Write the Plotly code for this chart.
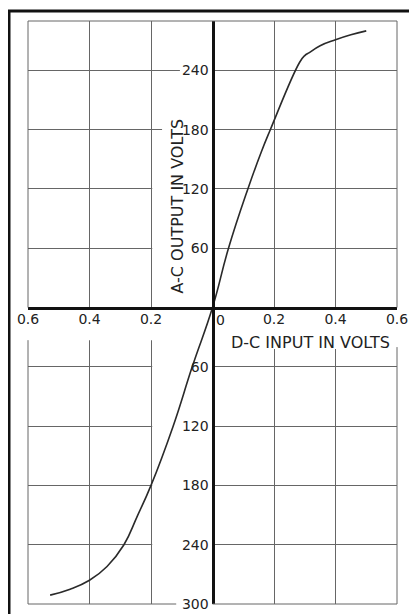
import plotly.graph_objects as go

# ---- data ----
upper_x = [0, 0.052, 0.115, 0.158, 0.188, 0.283, 0.300, 0.315, 0.35, 0.40, 0.45, 0.50]
upper_y = [0, 60, 120, 157, 180, 248, 255, 258, 265, 271, 276, 280]
lower_x = [0, -0.066, -0.128, -0.2, -0.2445, -0.288, -0.343, -0.40, -0.463, -0.528]
lower_y = [0, -60, -120, -180, -211, -240, -262, -276, -285, -291]

x_ticks = [-0.6, -0.4, -0.2, 0, 0.2, 0.4, 0.6]
x_labels = ["0.6", "0.4", "0.2", "", "0.2", "0.4", "0.6"]
origin_label = "0"
y_ticks = [-300, -240, -180, -120, -60, 0, 60, 120, 180, 240]
y_labels = ["300", "240", "180", "120", "60", "", "60", "120", "180", "240"]

X_RANGE = [-0.6, 0.6]
Y_RANGE = [-300, 290]

FONT = "DejaVu Sans"
TXT = "#222"
GRID = "#666"

# The page body adds an 8px margin; figure is sized/offset to compensate.
OFF = 8
W, H = 417 - OFF, 614 - OFF
L, R, T, B = 28 - OFF, 20, 21 - OFF, 10
pw, ph = W - L - R, H - T - B


def xp(v):
    return (v - X_RANGE[0]) / (X_RANGE[1] - X_RANGE[0])


def yp(v):
    return (v - Y_RANGE[0]) / (Y_RANGE[1] - Y_RANGE[0])


def px2x(p):  # window pixel -> paper x
    return (p - OFF - L) / pw


def py2y(p):  # window pixel -> paper y
    return (H - B - (p - OFF)) / ph


fig = go.Figure()
fig.add_trace(go.Scatter(x=lower_x[::-1] + upper_x[1:], y=lower_y[::-1] + upper_y[1:],
                         mode="lines", line=dict(color="#2a2a2a", width=1.6, shape="spline", smoothing=1.3),
                         hoverinfo="skip", showlegend=False))

shapes = []


def mask(x0, x1, y0, y1):
    shapes.append(dict(type="rect", xref="x", yref="y", x0=x0, x1=x1, y0=y0, y1=y1,
                       fillcolor="white", line=dict(width=0), layer="between"))


mask(-0.62, 0.0, -33, 0)        # strip under x axis (left)
mask(0.0, 0.62, -42, 0)         # strip under x axis (right, title)
mask(-0.196, 0.0, -310, 0)      # lower-left column next to labels
mask(-0.196, 0.0, 40, 130)      # y title area
mask(-0.164, 0.0, 130, 194)     # y title + 180 label
mask(-0.106, 0.0, 233, 247)     # 240 label


def pline(x0, y0, x1, y1, color=GRID, width=1):
    shapes.append(dict(type="line", xref="paper", yref="paper", x0=x0, y0=y0, x1=x1, y1=y1,
                       line=dict(color=color, width=width), layer="above"))


# inner frame (broken where the reference breaks it)
pline(0, 1, 1, 1)
pline(0, 0, 0, yp(-33))
pline(0, yp(0), 0, 1)
pline(1, 0, 1, yp(-40))
pline(1, yp(0), 1, 1)
pline(0, 0, xp(-0.118), 0)
pline(xp(0), 0, 1, 0)

# outer page border
pline(px2x(9.2), py2y(640), px2x(9.2), py2y(11), color="#111", width=2.6)
pline(px2x(8), py2y(11), px2x(430), py2y(11), color="#111", width=3)
pline(px2x(415), py2y(640), px2x(415), py2y(11), color="#999", width=1.2)

fig.update_layout(
    width=W, height=H,
    margin=dict(l=L, r=R, t=T, b=B, pad=0),
    paper_bgcolor="white", plot_bgcolor="white",
    showlegend=False,
    shapes=shapes,
    font=dict(family=FONT, color=TXT, size=14),
    xaxis=dict(range=X_RANGE, tickvals=x_ticks, ticktext=x_labels, showgrid=True,
               gridcolor=GRID, gridwidth=1, zeroline=False, showline=True, linewidth=3,
               linecolor="#111", anchor="free", position=yp(0), ticks="",
               tickfont=dict(size=14, color=TXT, family=FONT), automargin=False,
               ticklabelstandoff=-2, fixedrange=True),
    yaxis=dict(range=Y_RANGE, tickvals=y_ticks, ticktext=y_labels, showgrid=True,
               gridcolor=GRID, gridwidth=1, zeroline=False, showline=True, linewidth=3,
               linecolor="#111", anchor="free", position=xp(0), ticks="",
               tickfont=dict(size=14, color=TXT, family=FONT), automargin=False,
               fixedrange=True),
    annotations=[
        dict(text=origin_label, xref="x", yref="y", x=0.0, y=-13, xshift=8,
             showarrow=False, font=dict(size=14, color=TXT, family=FONT),
             xanchor="center", yanchor="middle"),
        dict(text="D-C INPUT IN VOLTS", xref="x", yref="y", x=0.32, y=-35.5,
             showarrow=False, font=dict(size=16, color=TXT, family=FONT),
             xanchor="center", yanchor="middle"),
        dict(text="A-C OUTPUT IN VOLTS", xref="x", yref="y", x=-0.114, y=102.7,
             showarrow=False, textangle=-90, font=dict(size=16, color=TXT, family=FONT),
             xanchor="center", yanchor="middle"),
    ],
)

fig.write_html("out.html")
